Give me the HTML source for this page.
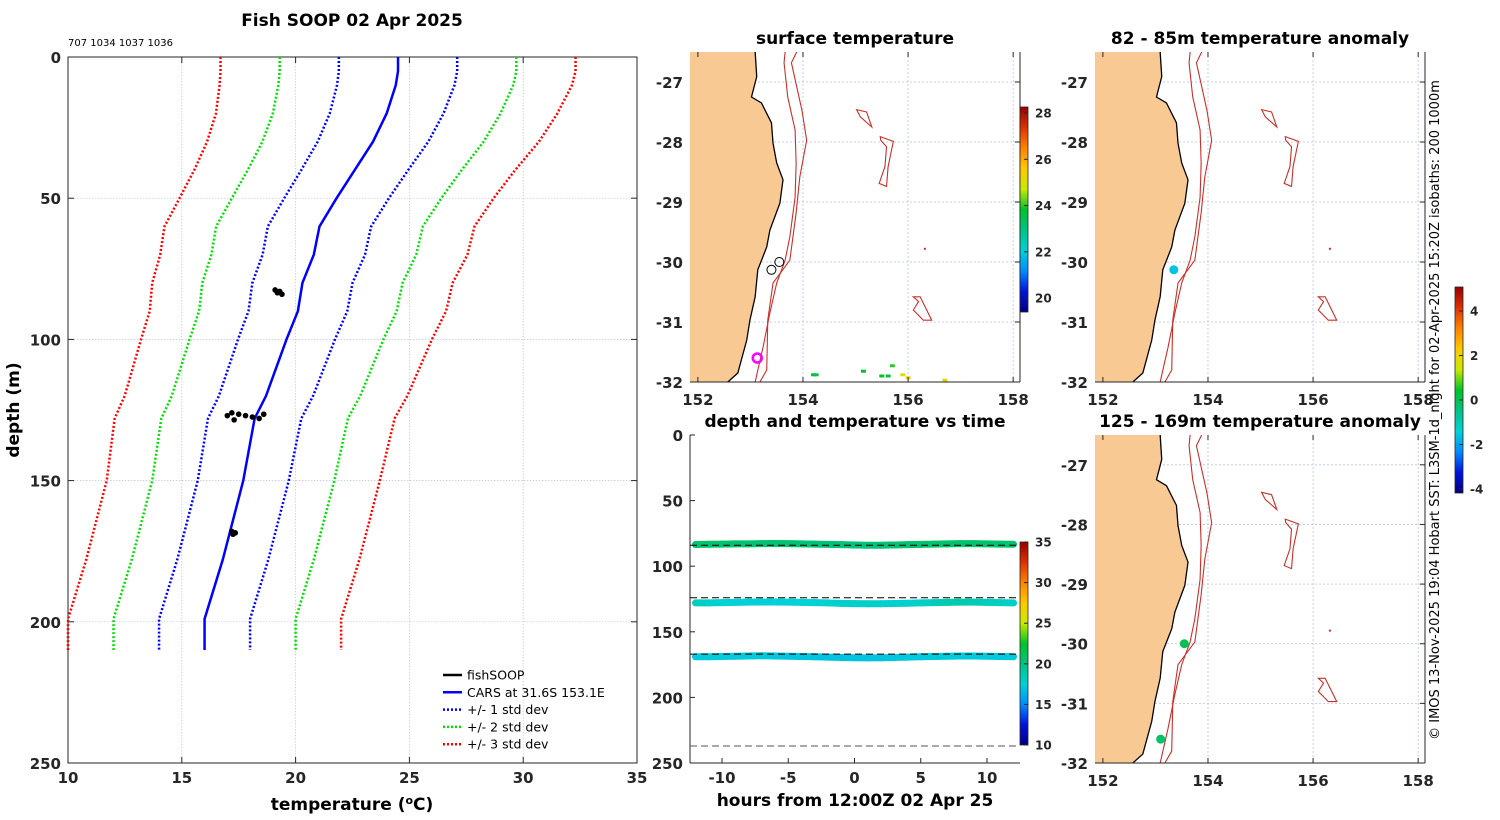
<!DOCTYPE html>
<html><head><meta charset="utf-8"><style>
html,body{margin:0;padding:0;background:#fff;}
svg{display:block;font-family:"DejaVu Sans","Liberation Sans",sans-serif;}
.tk{font-size:15px;font-weight:bold;fill:#262626;}
.ti{font-size:17px;font-weight:bold;fill:#000;}
.cb{font-size:12px;font-weight:bold;fill:#262626;}
</style></head><body>
<svg id="fig" width="1500" height="820" viewBox="0 0 1500 820" xmlns="http://www.w3.org/2000/svg"></svg>
<script>
// ---------- Profile data ----------
const profDepth = [0, 5, 10, 20, 30, 40, 50, 60, 70, 80, 90, 100, 120, 128, 150, 178, 199, 210];
const profMean  = [24.5, 24.5, 24.4, 24.0, 23.4, 22.6, 21.8, 21.05, 20.8, 20.3, 20.1, 19.6, 18.7, 18.2, 17.7, 16.8, 16.0, 16.0];
const profStd   = [2.6, 2.6, 2.58, 2.5, 2.43, 2.35, 2.3, 2.27, 2.25, 2.2, 2.17, 2.13, 2.07, 2.05, 2.0, 2.0, 2.0, 2.0];
const fishDepth = [82.5, 83, 83.5, 84, 126, 126.5, 127, 127.5, 128, 128.5, 126.5, 127, 168, 168.5, 169];
const fishTemp  = [19.1, 19.3, 19.2, 19.4, 17.2, 17.5, 17.8, 18.1, 18.4, 17.3, 18.6, 17.0, 17.2, 17.35, 17.25];
const tempTicks = [10, 15, 20, 25, 30, 35];
const depthTicks = [0, 50, 100, 150, 200, 250];
// ---------- Time panel data ----------
const hours = [-12,-11,-10,-9,-8,-7,-6,-5,-4,-3,-2,-1,0,1,2,3,4,5,6,7,8,9,10,11,12];
const band1Depth = [83.5,83.3,83.2,83.0,83.0,82.8,82.7,82.8,83.0,83.2,83.4,83.6,83.8,84.0,84.0,83.8,83.6,83.4,83.2,83.0,82.8,82.8,83.0,83.2,83.3];
const band1Temp  = [20.5,20.5,20.6,20.6,20.5,20.4,20.4,20.5,20.4,20.3,20.3,20.2,20.2,20.2,20.3,20.4,20.5,20.5,20.6,20.7,20.7,20.6,20.6,20.5,20.5];
const band2Depth = [128,128,127.8,127.6,127.4,127.3,127.3,127.4,127.6,127.8,128,128.3,128.5,128.6,128.6,128.4,128.2,128,127.8,127.6,127.4,127.4,127.6,127.8,128];
const band2Temp  = [18.3,18.0,17.6,17.5,17.4,17.3,17.4,17.5,17.5,17.6,17.7,17.8,17.9,17.9,17.9,17.8,17.8,17.9,18.2,18.6,18.8,18.6,18.4,18.1,18.0];
const band3Depth = [169,169,168.8,168.6,168.4,168.3,168.4,168.6,168.8,169,169.3,169.6,169.8,169.9,169.8,169.6,169.3,169,168.8,168.6,168.4,168.4,168.6,168.8,169];
const band3Temp  = [17.2,17.2,17.3,17.3,17.2,17.2,17.1,17.1,17.1,17.0,17.0,17.0,17.0,17.0,17.0,17.1,17.1,17.2,17.2,17.3,17.3,17.2,17.2,17.2,17.2];
const refDepths = [84, 124, 167];
const bottomDepth = [237];
const hourTicks = [-10, -5, 0, 5, 10];
// ---------- Map data ----------
const lonTicks = [152, 154, 156, 158];
const latTicks = [-27, -28, -29, -30, -31, -32];
const coastLon = [153.09,153.12,153.02,153.21,153.40,153.43,153.50,153.62,153.56,153.37,153.31,153.14,153.09,152.99,152.93,152.76,152.57];
const coastLat = [-26.5,-26.91,-27.25,-27.35,-27.68,-28.02,-28.35,-28.63,-29.02,-29.47,-29.75,-30.13,-30.58,-30.97,-31.30,-31.85,-32.0];
const iso200Lon = [153.66,153.64,153.71,153.85,153.87,153.85,153.75,153.66,153.50,153.37,153.24,153.09];
const iso200Lat = [-26.5,-26.68,-27.25,-27.80,-28.35,-28.92,-29.58,-29.97,-30.35,-30.85,-31.42,-32.0];
const iso1000Lon = [153.88,153.78,153.98,154.07,153.94,153.87,153.75,153.43,153.33,153.31,153.18];
const iso1000Lat = [-26.5,-26.68,-27.47,-27.97,-28.58,-29.18,-29.97,-30.35,-30.97,-31.80,-32.0];
const smA_Lon = [155.02,155.21,155.31,155.09]; const smA_Lat = [-27.46,-27.50,-27.75,-27.58];
const smB_Lon = [155.47,155.72,155.62,155.59,155.45,155.56,155.59,155.48]; const smB_Lat = [-27.91,-27.99,-28.41,-28.74,-28.69,-28.41,-28.08,-27.97];
const smC_Lon = [156.10,156.23,156.45,156.29,156.10,156.20]; const smC_Lat = [-30.58,-30.58,-30.97,-30.97,-30.80,-30.66];
const sstPixLon = [154.2,154.25,155.15,155.5,155.62,155.7,155.9,156.0,156.7];
const sstPixLat = [-31.88,-31.88,-31.82,-31.9,-31.9,-31.73,-31.88,-31.93,-31.97];
const sstPixVal = [23.6,23.6,23.8,23.8,23.7,24.0,25.0,25.4,25.3];
const anom1Lon = [153.35]; const anom1Lat = [-30.13]; const anom1Val = [-1.6];
const anom2Lon = [153.55, 153.1]; const anom2Lat = [-30.0, -31.6]; const anom2Val = [0.0, -0.2];
const sstTicks = [20, 22, 24, 26, 28];
const timeCbTicks = [10, 15, 20, 25, 30, 35];
const anomTicks = [-4, -2, 0, 2, 4];

const NS = "http://www.w3.org/2000/svg";
const svg = document.getElementById('fig');
function mk(tag, attrs, parent) {
  const e = document.createElementNS(NS, tag);
  for (const k in attrs) e.setAttribute(k, attrs[k]);
  (parent || svg).appendChild(e);
  return e;
}
function txt(x, y, s, cls, anchor, parent, extra) {
  const t = mk('text', Object.assign({x: x, y: y, class: cls, 'text-anchor': anchor || 'middle'}, extra || {}), parent);
  t.textContent = s;
  return t;
}
const cmapStops = [[0,[0,0,130]],[0.1,[0,20,220]],[0.2,[0,140,255]],[0.3,[0,210,215]],[0.4,[0,195,130]],[0.5,[0,195,40]],[0.6,[200,235,0]],[0.7,[255,200,0]],[0.8,[255,130,0]],[0.9,[220,50,0]],[1,[150,0,0]]];
function jet(t) {
  t = Math.max(0, Math.min(1, t));
  for (let i = 0; i < cmapStops.length - 1; i++) {
    const a = cmapStops[i], b = cmapStops[i+1];
    if (t <= b[0]) {
      const f = (t - a[0]) / (b[0] - a[0]);
      const c = a[1].map((v, k) => Math.round(v + f * (b[1][k] - v)));
      return `rgb(${c[0]},${c[1]},${c[2]})`;
    }
  }
  return 'rgb(150,0,0)';
}
const defs = mk('defs', {});
const grad = mk('linearGradient', {id: 'jetg', x1: 0, y1: 1, x2: 0, y2: 0}, defs);
for (let i = 0; i <= 40; i++) mk('stop', {offset: i/40, 'stop-color': jet(i/40)}, grad);

// ================= Profile panel =================
const PX0 = 68, PX1 = 637, PY0 = 57, PY1 = 763;
const px = t => PX0 + (t - 10) / 25 * (PX1 - PX0);
const py = d => PY0 + d / 250 * (PY1 - PY0);
const gp = mk('g', {}, svg);


tempTicks.forEach(t => {
  if (t > 10 && t < 35) mk('line', {x1: px(t), x2: px(t), y1: PY0, y2: PY1, stroke: '#b8c4e8', 'stroke-width': 0.7, 'stroke-dasharray': '1.5,1.5'}, gp);
  mk('line', {x1: px(t), x2: px(t), y1: PY1, y2: PY1 - 6, stroke: '#262626'}, gp);
  mk('line', {x1: px(t), x2: px(t), y1: PY0, y2: PY0 + 6, stroke: '#262626'}, gp);
  const l = txt(px(t), 783, t, 'tk', 'middle', gp);
  
  
});
depthTicks.forEach(d => {
  if (d > 0 && d < 250) mk('line', {x1: PX0, x2: PX1, y1: py(d), y2: py(d), stroke: '#b8c4e8', 'stroke-width': 0.7, 'stroke-dasharray': '1.5,1.5'}, gp);
  mk('line', {x1: PX0, x2: PX0 + 6, y1: py(d), y2: py(d), stroke: '#262626'}, gp);
  mk('line', {x1: PX1, x2: PX1 - 6, y1: py(d), y2: py(d), stroke: '#262626'}, gp);
  const l = txt(61, py(d) + 6, d, 'tk', 'end', gp);
  
  
});
mk('rect', {x: PX0, y: PY0, width: PX1 - PX0, height: PY1 - PY0, fill: 'none', stroke: '#262626', 'stroke-width': 1}, gp);
const sdCols = {1: '#0000ff', 2: '#00e000', 3: '#ff0000'};
[3, 2, 1].forEach(k => {
  [-1, 1].forEach(sg => {
    const pts = profDepth.map((d, i) => px(profMean[i] + sg * k * profStd[i]) + ',' + py(d)).join(' ');
    const pl = mk('polyline', {points: pts, fill: 'none', stroke: sdCols[k], 'stroke-width': 2.5, 'stroke-dasharray': '2,2'}, gp);
    
    
  });
});
const mline = mk('polyline', {points: profDepth.map((d, i) => px(profMean[i]) + ',' + py(d)).join(' '), fill: 'none', stroke: '#0000ff', 'stroke-width': 2.5}, gp);


fishDepth.forEach((d, i) => {
  const c = mk('circle', {cx: px(fishTemp[i]), cy: py(d), r: 2.8, fill: '#000'}, gp);
  
  
});
const pt = txt(352, 26, 'Fish SOOP 02 Apr 2025', 'ti', 'middle', gp);


const st = txt(68, 46, '707 1034 1037 1036', '', 'start', gp, {'font-size': 10, fill: '#000'});


const xl = txt(352, 810, '', 'ti', 'middle', gp, {'font-size': 16});
xl.innerHTML = 'temperature (<tspan dy="-6" font-size="11">o</tspan><tspan dy="6">C)</tspan>';


const yl = txt(0, 0, 'depth (m)', 'ti', 'middle', gp, {'font-size': 16, transform: 'translate(19,410) rotate(-90)'});


// legend
const legItems = [['fishSOOP', '#000', null], ['CARS at 31.6S 153.1E', '#0000ff', null], ['+/- 1 std dev', '#0000ff', '2,2'], ['+/- 2 std dev', '#00e000', '2,2'], ['+/- 3 std dev', '#ff0000', '2,2']];
const lg = mk('g', {}, gp);


legItems.forEach((it, i) => {
  const y = 675 + i * 17.3;
  const a = {x1: 443, x2: 462, y1: y, y2: y, stroke: it[1], 'stroke-width': 2.5};
  if (it[2]) a['stroke-dasharray'] = it[2];
  mk('line', a, lg);
  const t = txt(467, y + 4.5, it[0], '', 'start', lg, {'font-size': 12.5, fill: '#000'});
  
  
});

// ================= Time panel =================
const TX0 = 690, TX1 = 1020, TY0 = 435, TY1 = 763;
const tx = h => 854.5 + h * 13.25;
const ty = d => TY0 + d / 250 * (TY1 - TY0);
const gt = mk('g', {}, svg);


mk('line', {x1: TX0, y1: TY0, x2: TX0, y2: TY1, stroke: '#262626'}, gt);
mk('line', {x1: TX0, y1: TY1, x2: TX1, y2: TY1, stroke: '#262626'}, gt);
hourTicks.forEach(h => {
  mk('line', {x1: tx(h), x2: tx(h), y1: TY1, y2: TY1 - 5, stroke: '#262626'}, gt);
  const l = txt(tx(h), 783, h, 'tk', 'middle', gt);
  
  
});
depthTicks.forEach(d => {
  mk('line', {x1: TX0, x2: TX0 + 5, y1: ty(d), y2: ty(d), stroke: '#262626'}, gt);
  const l = txt(683, ty(d) + 6, d, 'tk', 'end', gt);
  
  
});
const tcol = v => jet((v - 10) / 25);
[[band1Depth, band1Temp], [band2Depth, band2Temp], [band3Depth, band3Temp]].forEach((b, bi) => {
  const g = mk('g', {}, gt);
  
  
  for (let i = 0; i < hours.length - 1; i++) {
    mk('line', {x1: tx(hours[i]), y1: ty(b[0][i]), x2: tx(hours[i+1]), y2: ty(b[0][i+1]), stroke: tcol((b[1][i] + b[1][i+1]) / 2), 'stroke-width': 7, 'stroke-linecap': 'round'}, g);
  }
});
refDepths.forEach(d => {
  const l = mk('line', {x1: TX0, x2: TX1, y1: ty(d), y2: ty(d), stroke: '#000', 'stroke-width': 1, 'stroke-dasharray': '7,4'}, gt);
  
  
});
bottomDepth.forEach(d => {
  const l = mk('line', {x1: TX0, x2: TX1, y1: ty(d), y2: ty(d), stroke: '#555', 'stroke-width': 1, 'stroke-dasharray': '7,4'}, gt);
  
  
});
const tt = txt(855, 427, 'depth and temperature vs time', 'ti', 'middle', gt);


const txl = txt(855, 806, 'hours from 12:00Z 02 Apr 25', 'ti', 'middle', gt, {'font-size': 16});



function colorbar(x, y0, y1, vmin, vmax, ticks, name) {
  const g = mk('g', {}, svg);
  
  
  mk('rect', {x: x, y: y0, width: 8, height: y1 - y0, fill: 'url(#jetg)', stroke: '#262626', 'stroke-width': 0.8}, g);
  ticks.forEach(v => {
    const y = y1 - (v - vmin) / (vmax - vmin) * (y1 - y0);
    mk('line', {x1: x + 8, x2: x + 4, y1: y, y2: y, stroke: '#262626'}, g);
    const l = txt(x + 15, y + 4.5, v, 'cb', 'start', g);
    
    
  });
}
colorbar(1020, 542, 745, 10, 35, timeCbTicks, 'time-colorbar');

// ================= Maps =================
function mapPanel(x0, y0, w, h, title, name, markFn) {
  const LON0 = 151.85, LON1 = 158.13, LAT0 = -26.5, LAT1 = -32.0;
  const mx = lon => x0 + (lon - LON0) / (LON1 - LON0) * w;
  const my = lat => y0 + (lat - LAT0) / (LAT1 - LAT0) * h;
  const g = mk('g', {}, svg);
  
  
  const cid = 'clip' + name;
  const cp = mk('clipPath', {id: cid}, defs);
  mk('rect', {x: x0, y: y0, width: w, height: h}, cp);
  const inner = mk('g', {'clip-path': 'url(#' + cid + ')'}, g);
  lonTicks.forEach(l => mk('line', {x1: mx(l), x2: mx(l), y1: y0, y2: y0 + h, stroke: '#b8c4e8', 'stroke-width': 0.8, 'stroke-dasharray': '2,2'}, inner));
  latTicks.forEach(l => mk('line', {x1: x0, x2: x0 + w, y1: my(l), y2: my(l), stroke: '#b8c4e8', 'stroke-width': 0.8, 'stroke-dasharray': '2,2'}, inner));
  const land = coastLon.map((l, i) => mx(l) + ',' + my(coastLat[i])).join(' ') + ` ${x0 - 2},${y0 + h + 2} ${x0 - 2},${y0 - 2}`;
  const lp = mk('polygon', {points: land, fill: '#f9c993', stroke: 'none'}, inner);
  
  
  mk('polyline', {points: coastLon.map((l, i) => mx(l) + ',' + my(coastLat[i])).join(' '), fill: 'none', stroke: '#000', 'stroke-width': 1.3}, inner);
  const line = (lo, la, closed, nm) => {
    const e = mk(closed ? 'polygon' : 'polyline', {points: lo.map((l, i) => mx(l) + ',' + my(la[i])).join(' '), fill: 'none', stroke: '#c8302a', 'stroke-width': 1.1}, inner);
    
    
  };
  line(iso200Lon, iso200Lat, false, 'isobath-200m');
  line(iso1000Lon, iso1000Lat, false, 'isobath-1000m');
  line(smA_Lon, smA_Lat, true, 'seamount-contour');
  line(smB_Lon, smB_Lat, true, 'seamount-contour');
  line(smC_Lon, smC_Lat, true, 'seamount-contour');
  mk('rect', {x: mx(156.32) - 1, y: my(-29.78) - 1, width: 2, height: 2, fill: '#c8302a'}, inner);
  markFn(inner, mx, my);
  mk('line', {x1: x0, y1: y0 + h, x2: x0 + w, y2: y0 + h, stroke: '#262626'}, g);
  mk('line', {x1: x0 + w, y1: y0, x2: x0 + w, y2: y0 + h, stroke: '#262626'}, g);
  lonTicks.forEach(l => {
    mk('line', {x1: mx(l), x2: mx(l), y1: y0 + h, y2: y0 + h - 5, stroke: '#262626'}, g);
    mk('line', {x1: mx(l), x2: mx(l), y1: y0, y2: y0 + 5, stroke: '#262626'}, g);
    const t = txt(mx(l), y0 + h + 23, l, 'tk', 'middle', g);
    
    
  });
  latTicks.forEach(l => {
    mk('line', {x1: x0 + w, x2: x0 + w - 5, y1: my(l), y2: my(l), stroke: '#262626'}, g);
    const t = txt(x0 - 7, my(l) + 6, l, 'tk', 'end', g);
    
    
  });
  const tl = txt(x0 + w / 2, y0 - 8, title, 'ti', 'middle', g);
  
  
}
mapPanel(690, 52, 330, 330, 'surface temperature', 'sst-map', (g, mx, my) => {
  sstPixLon.forEach((l, i) => {
    const r = mk('rect', {x: mx(l) - 2.5, y: my(sstPixLat[i]) - 1.5, width: 5, height: 3, fill: jet((sstPixVal[i] - 19.4) / (28.26 - 19.4))}, g);
    
    
  });
  [[153.55, -30.0], [153.4, -30.13]].forEach(p => mk('circle', {cx: mx(p[0]), cy: my(p[1]), r: 4.5, fill: 'none', stroke: '#000', 'stroke-width': 1}, g));
  const c = mk('circle', {cx: mx(153.13), cy: my(-31.6), r: 4.5, fill: 'none', stroke: '#ff00ff', 'stroke-width': 2.5}, g);
  
  
});
const acol = v => jet((v + 4.18) / (5.08 + 4.18));
mapPanel(1095, 52, 330, 330, '82 - 85m temperature anomaly', 'anomaly-map-82m', (g, mx, my) => {
  anom1Lon.forEach((l, i) => {
    const c = mk('circle', {cx: mx(l), cy: my(anom1Lat[i]), r: 4.5, fill: acol(anom1Val[i])}, g);
    
    
  });
});
mapPanel(1095, 435, 330, 328, '125 - 169m temperature anomaly', 'anomaly-map-125m', (g, mx, my) => {
  anom2Lon.forEach((l, i) => {
    const c = mk('circle', {cx: mx(l), cy: my(anom2Lat[i]), r: 4.5, fill: acol(anom2Val[i])}, g);
    
    
  });
});
colorbar(1020, 107, 312, 19.4, 28.26, sstTicks, 'sst-colorbar');
colorbar(1455, 287, 493, -4.18, 5.08, anomTicks, 'anomaly-colorbar');
const cr = txt(0, 0, '© IMOS 13-Nov-2025 19:04 Hobart SST: L3SM-1d_night for 02-Apr-2025 15:20Z isobaths: 200  1000m', '', 'middle', svg, {'font-size': 13, fill: '#000', transform: 'translate(1439,410) rotate(-90)'});


</script>
</body></html>
